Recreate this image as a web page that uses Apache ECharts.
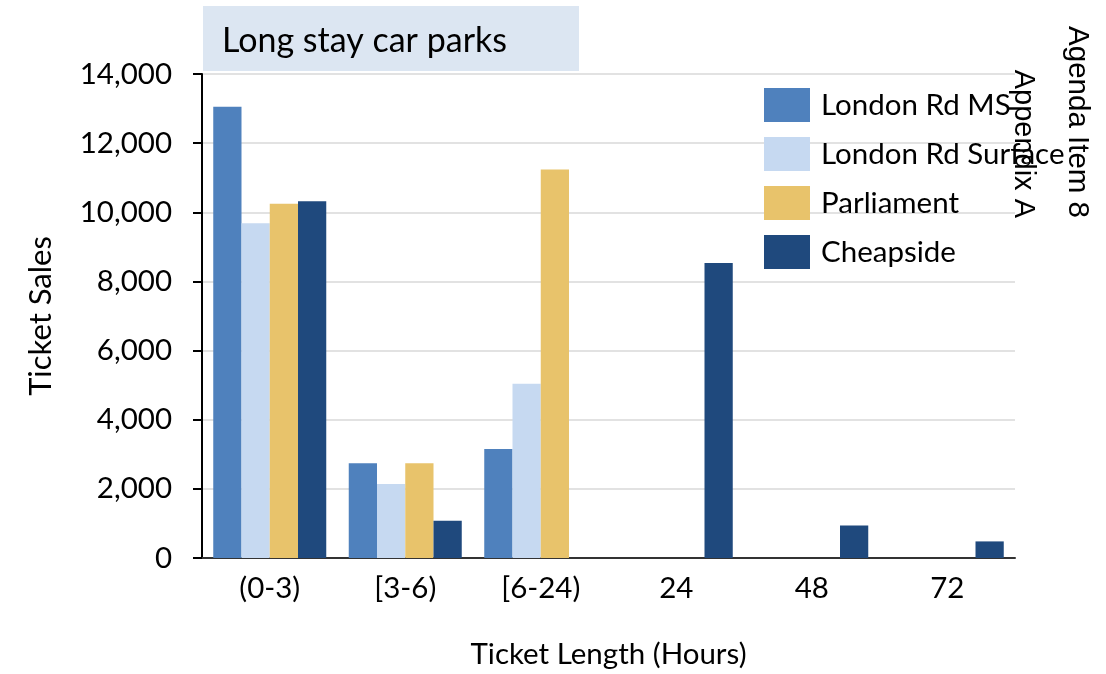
<!DOCTYPE html>
<html>
<head>
<meta charset="utf-8">
<script src="https://cdn.jsdelivr.net/npm/echarts@6/dist/echarts.min.js"></script>
<style>
  html, body { margin: 0; padding: 0; background: #fff; }
  #container { width: 1106px; height: 674px; }
</style>
</head>
<body>
<div id="container"></div>
<script>
var categories = ['(0-3)', '[3-6)', '[6-24)', '24', '48', '72'];
var londonMS = [13050, 2740, 3150, 0, 0, 0];
var londonSurface = [9680, 2140, 5040, 0, 0, 0];
var parliament = [10250, 2740, 11240, 0, 0, 0];
var cheapside = [10320, 1080, 0, 8530, 940, 480];

var seriesNames = ['London Rd MS', 'London Rd Surface', 'Parliament', 'Cheapside'];
var seriesColors = ['#4f81bd', '#c6d9f1', '#e8c36b', '#1f497d'];
var seriesData = [londonMS, londonSurface, parliament, cheapside];

var font = 'Lato, "Noto Sans", sans-serif';

var dom = document.getElementById('container');
var chart = echarts.init(dom, null, { renderer: 'canvas' });

var option = {
    animation: false,
    backgroundColor: '#fff',
    grid: {
        left: 202,
        right: 91,
        top: 74,
        bottom: 114,
        containLabel: false
    },
    legend: {
        orient: 'vertical',
        left: 764,
        top: 88,
        padding: 0,
        itemWidth: 46,
        itemHeight: 34,
        itemGap: 15,
        icon: 'rect',
        data: seriesNames,
        textStyle: {
            fontFamily: font,
            fontSize: 29.5,
            color: '#000',
            padding: [0, 0, 0, 6]
        }
    },
    xAxis: {
        type: 'category',
        data: categories,
        name: 'Ticket Length (Hours)',
        nameLocation: 'middle',
        nameGap: 81,
        nameTextStyle: { fontFamily: font, fontSize: 29.5, color: '#000' },
        axisLine: { lineStyle: { color: '#333', width: 2 } },
        axisTick: { show: false },
        axisLabel: { fontFamily: font, fontSize: 29.5, color: '#000', margin: 15 },
        splitLine: { show: false }
    },
    yAxis: {
        type: 'value',
        min: 0,
        max: 14000,
        interval: 2000,
        name: 'Ticket Sales',
        nameLocation: 'middle',
        nameGap: 146,
        nameRotate: 90,
        nameTextStyle: { fontFamily: font, fontSize: 31, color: '#000' },
        axisLine: { show: true, lineStyle: { color: '#000', width: 2 } },
        axisTick: { show: true, length: 9, lineStyle: { color: '#000', width: 2 } },
        axisLabel: {
            fontFamily: font,
            fontSize: 29.5,
            color: '#000',
            margin: 30,
            formatter: function (v) { return v.toLocaleString('en-US'); }
        },
        splitLine: { lineStyle: { color: '#d9d9d9', width: 1.5 } }
    },
    series: seriesNames.map(function (name, i) {
        return {
            name: name,
            type: 'bar',
            data: seriesData[i],
            barGap: '0%',
            barCategoryGap: '16.6%',
            itemStyle: { color: seriesColors[i] }
        };
    }),
    graphic: [
        {
            type: 'rect',
            left: 203,
            top: 6,
            shape: { width: 376, height: 65 },
            style: { fill: '#dce6f2' },
            z: 10
        },
        {
            type: 'text',
            x: 222,
            y: 41,
            style: {
                text: 'Long stay car parks',
                fontFamily: font,
                fontSize: 34,
                fill: '#000',
                align: 'left',
                verticalAlign: 'middle'
            },
            z: 11
        },
        {
            type: 'text',
            x: 1077,
            y: 218,
            rotation: -Math.PI / 2,
            style: {
                text: 'Agenda Item 8',
                fontFamily: '"Liberation Sans", Arial, sans-serif',
                fontSize: 29.5,
                fill: '#000',
                align: 'right',
                verticalAlign: 'middle'
            },
            z: 20
        },
        {
            type: 'text',
            x: 1023,
            y: 218,
            rotation: -Math.PI / 2,
            style: {
                text: 'Appendix A',
                fontFamily: '"Liberation Sans", Arial, sans-serif',
                fontSize: 29,
                fill: '#000',
                align: 'right',
                verticalAlign: 'middle'
            },
            z: 20
        }
    ]
};

chart.setOption(option);
window.addEventListener('resize', chart.resize);
</script>
</body>
</html>
